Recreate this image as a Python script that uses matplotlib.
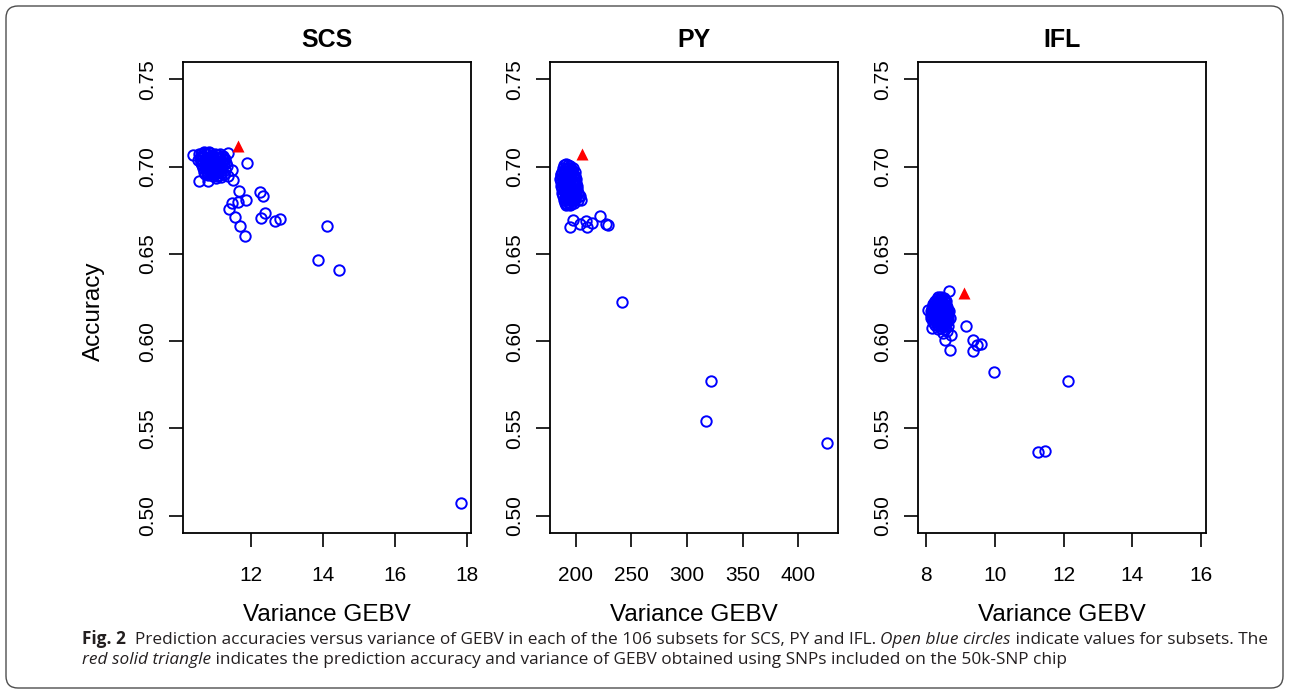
import matplotlib
matplotlib.use('Agg')
import matplotlib.pyplot as plt
from matplotlib.patches import FancyBboxPatch

# SCS: variance of GEBV and accuracy per subset (dense cluster first, then the spread)
scs_var = [10.55, 10.62, 10.70, 10.78, 10.85, 10.93, 11.00, 11.08, 11.15, 11.22,
           10.58, 10.66, 10.74, 10.81, 10.89, 10.96, 11.04, 11.11, 11.19, 11.27,
           10.60, 10.68, 10.76, 10.84, 10.92, 10.99, 11.07, 11.14, 11.21, 11.30,
           10.63, 10.71, 10.79, 10.87, 10.95, 11.02, 11.10, 11.18, 11.25, 11.33,
           10.66, 10.74, 10.82, 10.90, 10.97, 11.05, 11.12, 11.20, 11.28,
           10.69, 10.77, 10.85, 10.93, 11.01, 11.09, 11.16, 11.24,
           10.52, 10.60, 10.72, 10.80, 10.88, 10.98, 11.06, 11.13,
           10.64, 10.75, 10.86, 10.94, 11.03, 11.17,
           10.70, 10.83, 10.91, 11.00, 11.11, 10.79, 10.95, 11.26,
           10.40, 11.35, 11.89, 10.56, 10.82, 11.02, 11.47, 11.50, 11.36, 11.68,
           12.26, 12.35, 11.87, 11.63, 11.47, 11.40, 11.56, 12.38, 12.29, 12.66,
           12.82, 11.70, 11.85, 14.12, 13.88, 14.46, 17.84]
scs_acc = [0.7075, 0.7070, 0.7080, 0.7072, 0.7078, 0.7068, 0.7074, 0.7065, 0.7070, 0.7062,
           0.7050, 0.7055, 0.7048, 0.7058, 0.7052, 0.7046, 0.7054, 0.7049, 0.7056, 0.7044,
           0.7030, 0.7026, 0.7034, 0.7028, 0.7032, 0.7024, 0.7030, 0.7035, 0.7027, 0.7022,
           0.7010, 0.7014, 0.7006, 0.7012, 0.7008, 0.7016, 0.7004, 0.7010, 0.7013, 0.7002,
           0.6990, 0.6994, 0.6986, 0.6992, 0.6988, 0.6996, 0.6984, 0.6990, 0.6982,
           0.6970, 0.6975, 0.6968, 0.6972, 0.6966, 0.6974, 0.6964, 0.6960,
           0.7040, 0.7020, 0.6958, 0.6952, 0.6962, 0.6955, 0.6948, 0.6950,
           0.7062, 0.7000, 0.7038, 0.6944, 0.6978, 0.6940,
           0.7085, 0.7082, 0.7060, 0.7018, 0.6985, 0.6965, 0.7005, 0.7040,
           0.7067, 0.7080, 0.7020, 0.6915, 0.6915, 0.6934, 0.6980, 0.6924, 0.6947, 0.6860,
           0.6854, 0.6830, 0.6810, 0.6797, 0.6790, 0.6757, 0.6711, 0.6734, 0.6703, 0.6686,
           0.6700, 0.6657, 0.6604, 0.6661, 0.6466, 0.6409, 0.5073]
scs_chip = (11.65, 0.7120)

# PY
py_var = [189.5, 191.2, 193.0, 194.8,
          188.2, 190.1, 192.3, 194.0, 196.1, 197.8,
          187.3, 189.2, 191.1, 193.4, 195.2, 197.0, 199.1,
          187.0, 189.4, 191.3, 193.1, 195.3, 197.2, 199.0,
          186.2, 188.1, 190.3, 192.2, 194.4, 196.0, 198.3, 200.1,
          186.4, 188.3, 190.0, 192.4, 194.1, 196.3, 198.0, 200.2,
          187.1, 189.0, 191.4, 193.2, 195.0, 197.3, 199.2, 201.0,
          187.4, 189.3, 191.0, 193.3, 195.4, 197.1, 199.3, 201.2,
          188.0, 190.2, 192.1, 194.3, 196.2, 198.1, 200.3, 202.0,
          188.4, 190.4, 192.0, 194.2, 196.4, 198.2, 200.0, 203.1,
          189.1, 191.0, 193.1, 195.1, 197.4, 199.4, 202.2, 205.0,
          190.0, 192.2, 194.3, 196.1, 198.4,
          191.3, 195.2, 186.5, 204.2,
          194.9, 197.8, 203.9, 209.2, 210.4, 214.3, 221.8, 227.2, 228.7,
          242.1, 322.1, 316.8, 425.8]
py_acc = [0.7012, 0.7016, 0.7010, 0.7005,
          0.6992, 0.6988, 0.6995, 0.6990, 0.6986, 0.6993,
          0.6972, 0.6968, 0.6975, 0.6970, 0.6966, 0.6973, 0.6969,
          0.6950, 0.6955, 0.6948, 0.6952, 0.6946, 0.6954, 0.6949,
          0.6930, 0.6934, 0.6928, 0.6932, 0.6926, 0.6935, 0.6929, 0.6931,
          0.6910, 0.6906, 0.6914, 0.6908, 0.6912, 0.6905, 0.6911, 0.6907,
          0.6890, 0.6894, 0.6886, 0.6892, 0.6888, 0.6895, 0.6887, 0.6891,
          0.6870, 0.6866, 0.6874, 0.6868, 0.6872, 0.6865, 0.6871, 0.6869,
          0.6850, 0.6854, 0.6846, 0.6852, 0.6848, 0.6855, 0.6847, 0.6851,
          0.6830, 0.6826, 0.6834, 0.6828, 0.6832, 0.6825, 0.6833, 0.6829,
          0.6810, 0.6814, 0.6806, 0.6812, 0.6808, 0.6815, 0.6809, 0.6811,
          0.6790, 0.6786, 0.6792, 0.6788, 0.6794,
          0.6778, 0.6782, 0.6955, 0.6830,
          0.6653, 0.6695, 0.6672, 0.6686, 0.6653, 0.6677, 0.6718, 0.6672, 0.6665,
          0.6224, 0.5773, 0.5540, 0.5416]
py_chip = (205.4, 0.7073)

# IFL
ifl_var = [8.35, 8.45, 8.52,
           8.28, 8.38, 8.48, 8.58,
           8.22, 8.30, 8.40, 8.50, 8.60,
           8.18, 8.26, 8.34, 8.44, 8.54, 8.62,
           8.15, 8.24, 8.32, 8.42, 8.52, 8.62, 8.68,
           8.14, 8.22, 8.30, 8.40, 8.50, 8.58, 8.66,
           8.16, 8.25, 8.34, 8.44, 8.54, 8.64, 8.70,
           8.20, 8.30, 8.38, 8.48, 8.58, 8.66,
           8.28, 8.36, 8.46, 8.56, 8.64,
           8.35, 8.45, 8.55,
           8.32, 8.42, 8.55,
           8.25, 8.35, 8.45, 8.55,
           8.20, 8.36, 8.47, 8.57,
           8.21, 8.30, 8.40, 8.49, 8.58,
           8.19, 8.28, 8.37, 8.47, 8.56, 8.64,
           8.18, 8.27, 8.36, 8.46, 8.55, 8.62,
           8.23, 8.32, 8.41, 8.51, 8.61,
           8.33, 8.42, 8.52,
           8.68, 8.06, 9.17, 8.17, 8.56, 8.73, 8.70, 9.36, 9.48, 9.59,
           9.38, 9.99, 12.14, 11.26, 11.46, 8.62, 8.50]
ifl_acc = [0.6250, 0.6254, 0.6247,
           0.6230, 0.6234, 0.6227, 0.6232,
           0.6210, 0.6214, 0.6207, 0.6212, 0.6208,
           0.6190, 0.6194, 0.6187, 0.6192, 0.6188, 0.6195,
           0.6170, 0.6174, 0.6167, 0.6172, 0.6168, 0.6175, 0.6171,
           0.6150, 0.6154, 0.6147, 0.6152, 0.6148, 0.6155, 0.6151,
           0.6130, 0.6134, 0.6127, 0.6132, 0.6128, 0.6135, 0.6131,
           0.6110, 0.6114, 0.6107, 0.6112, 0.6108, 0.6115,
           0.6090, 0.6094, 0.6087, 0.6092, 0.6088,
           0.6070, 0.6074, 0.6067,
           0.6240, 0.6244, 0.6237,
           0.6220, 0.6224, 0.6217, 0.6222,
           0.6200, 0.6204, 0.6197, 0.6202,
           0.6180, 0.6184, 0.6177, 0.6182, 0.6178,
           0.6160, 0.6164, 0.6157, 0.6162, 0.6158, 0.6165,
           0.6140, 0.6144, 0.6137, 0.6142, 0.6138, 0.6145,
           0.6120, 0.6124, 0.6117, 0.6122, 0.6118,
           0.6100, 0.6104, 0.6097,
           0.6285, 0.6176, 0.6084, 0.6075, 0.6008, 0.6035, 0.5947, 0.6004, 0.5979, 0.5985,
           0.5941, 0.5823, 0.5769, 0.5363, 0.5368, 0.6055, 0.6045]
ifl_chip = (9.11, 0.6275)

traits = ['SCS', 'PY', 'IFL']
xticks = [[12, 14, 16, 18], [200, 250, 300, 350, 400], [8, 10, 12, 14, 16]]
yticks = [0.50, 0.55, 0.60, 0.65, 0.70, 0.75]
xlims = [(10.12, 18.13), (177.0, 435.8), (7.785, 16.145)]
lefts = [0.1421, 0.4264, 0.7119]

plt.rcParams['font.family'] = ['Liberation Sans', 'DejaVu Sans']

W, H = 1290, 693
fig = plt.figure(figsize=(W / 100, H / 100), dpi=100)

# rounded frame round the whole figure, in pixel units
border = FancyBboxPatch((6, 5), 1277, 682,
                        boxstyle='round,pad=0,rounding_size=12',
                        transform=None, fill=False,
                        edgecolor='#4d4d4d', linewidth=1.0)
fig.patches.append(border)

data = [(scs_var, scs_acc, scs_chip), (py_var, py_acc, py_chip), (ifl_var, ifl_acc, ifl_chip)]

for i, (xs, ys, chip) in enumerate(data):
    ax = fig.add_axes([lefts[i], 0.2309, 0.2232, 0.6797])
    ax.plot(xs, ys, 'o', mfc='none', mec='#0000ff', ms=7.5, mew=1.4, ls='none')
    ax.plot([chip[0]], [chip[1]], '^', color='#ff0000', ms=8.5, mec='none')
    ax.set_xlim(xlims[i])
    ax.set_ylim(0.49, 0.76)
    ax.set_xticks(xticks[i])
    ax.set_yticks(yticks)
    ax.set_yticklabels(['%.2f' % v for v in yticks], rotation=90, va='center')
    ax.tick_params(direction='out', length=10, width=1.2, labelsize=15, color='black')
    ax.tick_params(axis='x', pad=14)
    ax.tick_params(axis='y', pad=9)
    for s in ax.spines.values():
        s.set_linewidth(1.3)
    ax.set_title(traits[i], fontsize=18, fontweight='bold', pad=11)
    ax.set_xlabel('Variance GEBV', fontsize=17.5)
    ax.xaxis.set_label_coords(0.5, -(604 - 533) / 471.0)
    if i == 0:
        ax.set_ylabel('Accuracy', fontsize=17.5)
        ax.yaxis.set_label_coords(-0.273, 0.47)

# caption with mixed styles, sized so the first line spans the same width as the original
cap_font = ['Open Sans', 'DejaVu Sans']
lines = [
    [('Fig. 2', 'normal', 'bold'),
     ('  Prediction accuracies versus variance of GEBV in each of the 106 subsets for SCS, PY and IFL. ', 'normal', 'normal'),
     ('Open blue circles', 'italic', 'normal'),
     (' indicate values for subsets. The', 'normal', 'normal')],
    [('red solid triangle', 'italic', 'normal'),
     (' indicates the prediction accuracy and variance of GEBV obtained using SNPs included on the 50k-SNP chip', 'normal', 'normal')],
]
baselines = [644, 664]
renderer = fig.canvas.get_renderer()

probe = 0
for txt, style, weight in lines[0]:
    t = fig.text(0, 0, txt, family=cap_font, style=style, fontweight=weight, fontsize=12)
    probe += t.get_window_extent(renderer).width
    t.remove()
cap_size = 12 * 1183 / probe

for line, yb in zip(lines, baselines):
    x = 82
    for txt, style, weight in line:
        t = fig.text(x / W, 1 - yb / H, txt, family=cap_font, style=style, fontweight=weight,
                     fontsize=cap_size, color='#231f20', va='baseline', ha='left')
        x += t.get_window_extent(renderer).width

fig.savefig('out.png', dpi=100)
